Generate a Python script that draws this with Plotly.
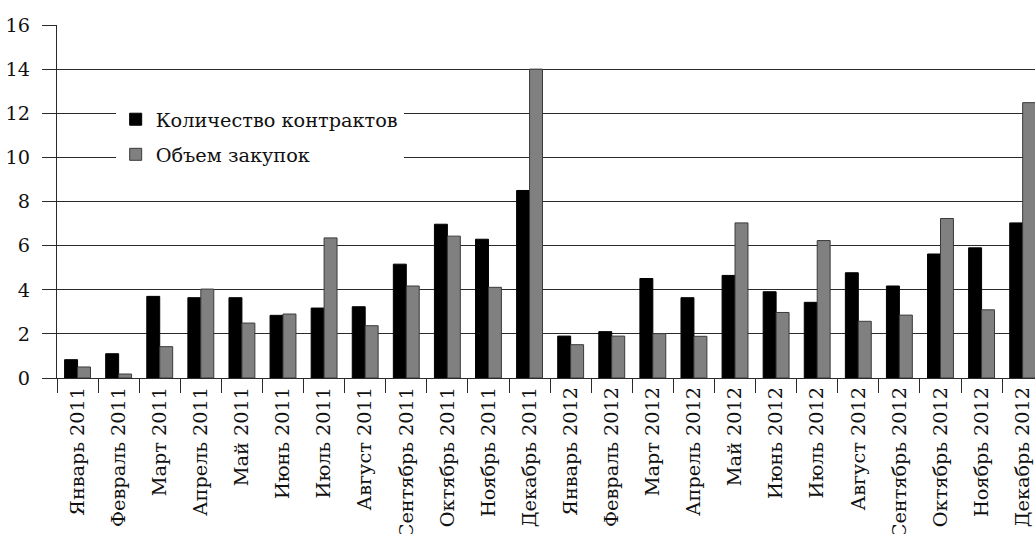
import plotly.graph_objects as go

months = [
    "Январь 2011", "Февраль 2011", "Март 2011", "Апрель 2011", "Май 2011", "Июнь 2011",
    "Июль 2011", "Август 2011", "Сентябрь 2011", "Октябрь 2011", "Ноябрь 2011", "Декабрь 2011",
    "Январь 2012", "Февраль 2012", "Март 2012", "Апрель 2012", "Май 2012", "Июнь 2012",
    "Июль 2012", "Август 2012", "Сентябрь 2012", "Октябрь 2012", "Ноябрь 2012", "Декабрь 2012",
]
contracts = [0.83, 1.10, 3.70, 3.64, 3.64, 2.84, 3.17, 3.23, 5.16, 6.97, 6.29, 8.50,
             1.90, 2.10, 4.51, 3.64, 4.65, 3.91, 3.43, 4.77, 4.17, 5.62, 5.90, 7.03]
purchases = [0.50, 0.18, 1.42, 4.03, 2.49, 2.90, 6.35, 2.37, 4.17, 6.43, 4.11, 14.0,
             1.51, 1.90, 2.01, 1.89, 7.03, 2.97, 6.23, 2.57, 2.85, 7.23, 3.09, 12.48]
y_ticks = [0, 2, 4, 6, 8, 10, 12, 14, 16]

FONT = "'DejaVu Serif', 'Liberation Serif', serif"
FSIZE = 19.3
GRID = "#2a2a2a"

fig = go.Figure()
fig.add_trace(go.Bar(
    x=months, y=contracts, name="Количество контрактов",
    marker=dict(color="#000000", line=dict(color="#000000", width=1)),
    legendgroup="a",
))
fig.add_trace(go.Bar(
    x=months, y=purchases, name="Объем закупок",
    marker=dict(color="#808080", line=dict(color="#3a3a3a", width=1)),
    legendgroup="b",
))

fig.update_layout(
    width=1035, height=534,
    margin=dict(l=57, r=0, t=25, b=156, autoexpand=False),
    paper_bgcolor="white", plot_bgcolor="white",
    barmode="group", bargap=0.37, bargroupgap=0,
    font=dict(family=FONT, size=FSIZE, color="#111"),
    showlegend=True,
    legend=dict(
        x=0.06, y=0.787, xanchor="left", yanchor="top",
        bgcolor="white", borderwidth=0,
        font=dict(family=FONT, size=FSIZE, color="#111"),
        traceorder="grouped", tracegroupgap=7,
        entrywidth=300, entrywidthmode="pixels",
    ),
    xaxis=dict(
        range=[-0.5, 23.3], automargin=False,
        tickangle=-90, tickson="boundaries",
        ticks="outside", ticklen=14, tickwidth=1.3, tickcolor=GRID,
        showline=True, linecolor=GRID, linewidth=1.3,
        showgrid=False, zeroline=False,
        tickfont=dict(family=FONT, size=FSIZE, color="#111"),
    ),
    yaxis=dict(
        range=[0, 16], tickvals=y_ticks, automargin=False,
        ticks="outside", ticklen=14, tickwidth=1.3, tickcolor=GRID,
        showgrid=True, gridcolor=GRID, gridwidth=1.3,
        showline=True, linecolor=GRID, linewidth=1.3,
        zeroline=False, ticklabelstandoff=8,
        tickfont=dict(family=FONT, size=FSIZE, color="#111"),
    ),
)

fig.write_html("out.html")
